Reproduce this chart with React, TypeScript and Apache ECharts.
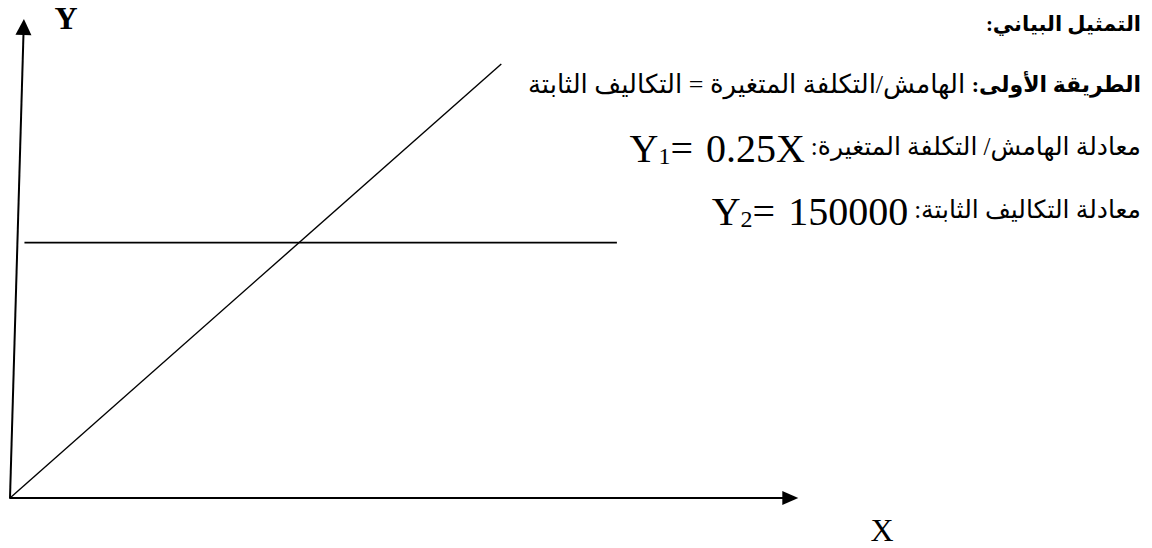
import React, { useEffect, useRef } from "react";
import * as echarts from "echarts";

// Data
const xMax = 1620000;
const yMax = 280000;
const marginLine: [number, number][] = [
  [0, 0],
  [1020000, 255000],
]; // Y1 = 0.25X
const fixedCostLine: [number, number][] = [
  [30000, 150000],
  [1260000, 150000],
]; // Y2 = 150000
const yAxisArrow: [number, number][] = [
  [0, 0],
  [28400, 276700],
];

const titleText = "التمثيل البياني:";
const method1Bold = "الطريقة الأولى:";
const method1Text = "الهامش/التكلفة المتغيرة = التكاليف الثابتة";
const eq1Label = "معادلة الهامش/ التكلفة المتغيرة:";
const eq2Label = "معادلة التكاليف الثابتة:";
const eq1Value = { y: "Y", sub: "1", rest: "0.25X" };
const eq2Value = { y: "Y", sub: "2", rest: "150000" };

const RLM = "\u200F";
const SERIF = "'Liberation Serif', 'DejaVu Serif', serif";
const AR = "'Liberation Serif', 'DejaVu Sans', serif";
const RIGHT = 1141;

export default function App() {
  const ref = useRef<HTMLDivElement>(null);
  useEffect(() => {
    if (!ref.current) return;
    const chart = echarts.init(ref.current, undefined, { renderer: "svg" });
    const eqRich = {
      eq: { fontFamily: SERIF, fontSize: 40, color: "#000", lineHeight: 44, verticalAlign: "bottom" },
      sub: { fontFamily: SERIF, fontSize: 24, color: "#000", lineHeight: 40, verticalAlign: "bottom" },
      gap: { fontFamily: SERIF, fontSize: 20, color: "#000", lineHeight: 44, width: 13, verticalAlign: "bottom" },
      sp: { fontFamily: SERIF, fontSize: 20, color: "#000", lineHeight: 44, width: 6, verticalAlign: "bottom" },
      ar: { fontFamily: AR, fontSize: 25, color: "#000", lineHeight: 44, verticalAlign: "middle" },
    };
    const eqText = (v: { y: string; sub: string; rest: string }, label: string) =>
      `{eq|${v.y}}{sub|${v.sub}}{eq|=}{gap| }{eq|${v.rest}}{sp| }{ar|${RLM}${label}${RLM}}`;
    chart.setOption({
      animation: false,
      grid: { left: 10, right: 361.7, top: 21.4, bottom: 50 },
      xAxis: {
        type: "value",
        min: 0,
        max: xMax,
        axisLine: {
          show: true,
          symbol: ["none", "triangle"],
          symbolSize: [14, 16],
          lineStyle: { color: "#000", width: 2 },
        },
        axisTick: { show: false },
        axisLabel: { show: false },
        splitLine: { show: false },
      },
      yAxis: {
        type: "value",
        min: 0,
        max: yMax,
        axisLine: { show: false },
        axisTick: { show: false },
        axisLabel: { show: false },
        splitLine: { show: false },
      },
      series: [
        {
          type: "line",
          data: marginLine,
          symbol: "none",
          clip: false,
          lineStyle: { color: "#000", width: 1.4 },
        },
        {
          type: "line",
          data: fixedCostLine,
          symbol: "none",
          clip: false,
          lineStyle: { color: "#000", width: 1.8 },
        },
        {
          type: "line",
          data: [],
          clip: false,
          markLine: {
            silent: true,
            symbol: ["none", "triangle"],
            symbolSize: [16, 16],
            label: { show: false },
            lineStyle: { color: "#000", width: 2, type: "solid" },
            data: [[{ coord: yAxisArrow[0] }, { coord: yAxisArrow[1] }]],
          },
        },
      ],
      graphic: [
        {
          type: "text",
          x: 66,
          y: 18,
          style: { text: "Y", font: `bold 32px ${SERIF}`, fill: "#000", align: "center", verticalAlign: "middle" },
        },
        {
          type: "text",
          x: 882,
          y: 530,
          style: { text: "X", font: `32px ${SERIF}`, fill: "#000", align: "center", verticalAlign: "middle" },
        },
        {
          type: "text",
          x: RIGHT,
          y: 24,
          style: { text: RLM + titleText + RLM, font: `bold 21px ${AR}`, fill: "#000", align: "right", verticalAlign: "middle" },
        },
        {
          type: "text",
          x: RIGHT,
          y: 84,
          style: {
            text: `{r|${RLM}${method1Text}${RLM}} {b|${RLM}${method1Bold}${RLM}}`,
            align: "right",
            verticalAlign: "middle",
            fill: "#000",
            font: `26px ${AR}`,
            rich: {
              r: { fontFamily: AR, fontSize: 26, color: "#000", lineHeight: 34 },
              b: { fontFamily: AR, fontSize: 22, fontWeight: "bold", color: "#000", lineHeight: 34 },
            },
          },
        },
        {
          type: "text",
          x: RIGHT,
          y: 146,
          style: { text: eqText(eq1Value, eq1Label), align: "right", verticalAlign: "middle", fill: "#000", font: `25px ${AR}`, rich: eqRich },
        },
        {
          type: "text",
          x: RIGHT,
          y: 209,
          style: { text: eqText(eq2Value, eq2Label), align: "right", verticalAlign: "middle", fill: "#000", font: `25px ${AR}`, rich: eqRich },
        },
      ],
    });
    return () => chart.dispose();
  }, []);
  return (
    <div
      ref={ref}
      style={{ position: "absolute", left: 0, top: 0, width: 1152, height: 548, background: "#fff" }}
    />
  );
}
